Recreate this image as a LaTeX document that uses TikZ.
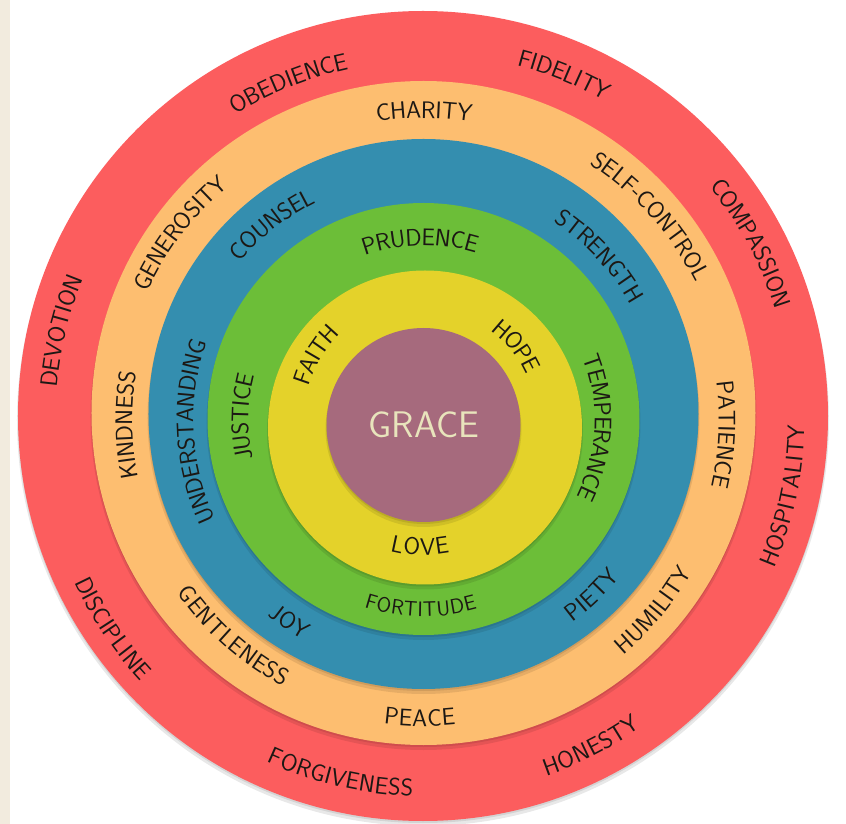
\documentclass[tikz,border=0pt]{standalone}
\usepackage{tikz}
\usetikzlibrary{decorations.text}
\definecolor{ringred}{RGB}{252,93,94}
\definecolor{ringorange}{RGB}{253,190,112}
\definecolor{ringblue}{RGB}{52,142,175}
\definecolor{ringgreen}{RGB}{108,190,56}
\definecolor{ringyellow}{RGB}{228,210,42}
\definecolor{gracemauve}{RGB}{166,106,125}
\definecolor{gracetext}{RGB}{232,228,188}
\definecolor{ink}{RGB}{28,24,20}
\definecolor{paper}{RGB}{242,235,222}
\tikzset{
	shade disc/.style={fill=black,opacity=.09},
	grace node/.style={font=\sffamily\fontsize{37}{37}\selectfont,text=gracetext}
}
% word set along a ring, read clockwise (tops outward)
\newcommand{\virtuecw}[4][24]{%
	\path[decorate,decoration={text along path,text align=center,raise=-8.3pt,
		text={|\sffamily\fontsize{#1}{#1}\selectfont\color{ink}|#4}}]
		({#2+70}:#3) arc[start angle=#2+70,end angle=#2-70,radius=#3];}
% word set along a ring, read counterclockwise (tops inward)
\newcommand{\virtueccw}[4][24]{%
	\path[decorate,decoration={text along path,text align=center,raise=-8.3pt,
		text={|\sffamily\fontsize{#1}{#1}\selectfont\color{ink}|#4}}]
		({#2-70}:#3) arc[start angle=#2-70,end angle=#2+70,radius=#3];}

\begin{document}
\begin{tikzpicture}[x=1pt,y=1pt]
	\useasboundingbox (-424,-404) rectangle (422,420);
	\fill[white] (-424,-404) rectangle (422,420);
	\fill[paper] (-424,-404) rectangle (-414,420);
	% the rings, outside in
	\foreach \cx/\cy/\rad/\col in {-1/4/405/ringred, -0.5/7/332/ringorange,
		-0.5/6/275/ringblue, -0.5/1/216/ringgreen, 1/-7.5/157/ringyellow,
		-0.5/-5/97/gracemauve}
	{
		\fill[shade disc] (\cx,\cy-4) circle[radius=\rad+1];
		\fill[shade disc] (\cx,\cy-2) circle[radius=\rad];
		\fill[\col] (\cx,\cy) circle[radius=\rad];
	}
	\node[grace node] (grace) at (0,-5) {GRACE};
	% red ring
	\virtuecw{111.9}{367}{OBEDIENCE}
	\virtuecw{67.9}{375}{FIDELITY}
	\virtuecw{28.4}{377}{COMPASSION}
	\virtueccw{-11.9}{372}{HOSPITALITY}
	\virtueccw{-62.9}{368}{HONESTY}
	\virtueccw{-103.2}{368}{FORGIVENESS}
	\virtueccw{-146.2}{377}{DISCIPLINE}
	\virtuecw{166.2}{377}{DEVOTION}
	% orange ring
	\virtuecw{90}{310}{CHARITY}
	\virtuecw{42}{313}{SELF-CONTROL}
	\virtuecw{-2.8}{303}{PATIENCE}
	\virtueccw{-39.7}{300}{HUMILITY}
	\virtueccw{-90.8}{298}{PEACE}
	\virtueccw{-131.4}{293}{GENTLENESS}
	\virtuecw{181}{300}{KINDNESS}
	\virtuecw{142.6}{313}{GENEROSITY}
	% blue ring
	\virtuecw{127.9}{251}{COUNSEL}
	\virtuecw{43}{245}{STRENGTH}
	\virtueccw{-46.2}{243}{PIETY}
	\virtueccw{-123.6}{242}{JOY}
	\virtuecw{182.9}{239}{UNDERSTANDING}
	% green ring
	\virtuecw{91.3}{183}{PRUDENCE}
	\virtuecw{-2.6}{179}{TEMPERANCE}
	\virtueccw[21]{-91}{188}{FORTITUDE}
	\virtuecw{179}{184}{JUSTICE}
	% yellow ring
	\virtuecw{149}{128}{FAITH}
	\virtuecw{38.6}{120}{HOPE}
	\virtueccw{-91.8}{127}{LOVE}
\end{tikzpicture}
\end{document}
